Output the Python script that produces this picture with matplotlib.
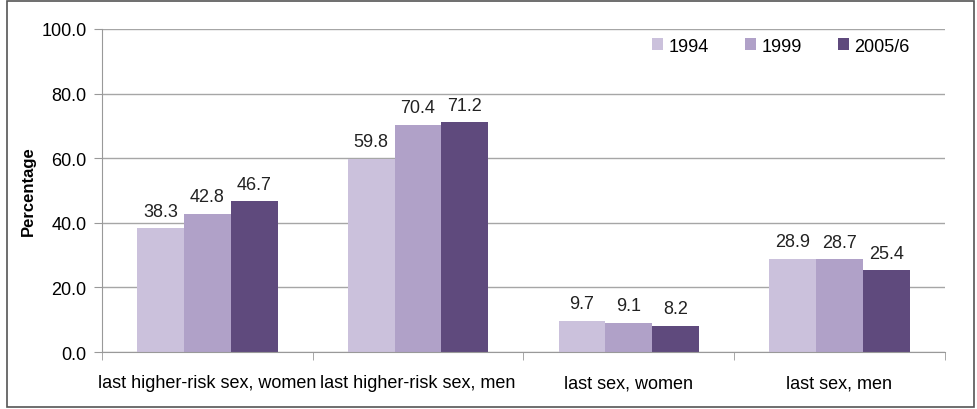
import numpy as np
import matplotlib.pyplot as plt

plt.rcParams['font.family'] = ['Liberation Sans', 'DejaVu Sans']

categories = ['last higher-risk sex, women', 'last higher-risk sex, men',
              'last sex, women', 'last sex, men']
years = ['1994', '1999', '2005/6']
values_1994 = [38.3, 59.8, 9.7, 28.9]
values_1999 = [42.8, 70.4, 9.1, 28.7]
values_2005 = [46.7, 71.2, 8.2, 25.4]
colors = ['#cbc1dc', '#b0a1c8', '#5f4a7d']


def main():
    fig = plt.figure(figsize=(9.77, 4.1), dpi=100)
    ax = fig.add_axes([0.1044, 0.139, 0.8626, 0.788])

    x = np.arange(len(categories))
    w = 0.222
    series = [values_1994, values_1999, values_2005]
    for i, vals in enumerate(series):
        bars = ax.bar(x + (i - 1) * w, vals, w, color=colors[i], label=years[i], zorder=2)
        for b, v in zip(bars, vals):
            ax.text(b.get_x() + b.get_width() / 2, v + 2.6, '%.1f' % v,
                    ha='center', va='bottom', fontsize=13, color='#222222')

    ax.set_xlim(-0.5, len(categories) - 0.5)
    ax.set_ylim(0, 100)
    ax.set_yticks(np.arange(0, 101, 20))
    ax.set_yticklabels(['%.1f' % t for t in np.arange(0, 101, 20)], fontsize=13)
    ax.set_xticks(x)
    ax.set_xticklabels(categories, fontsize=13)
    ax.set_xticks(np.arange(-0.5, len(categories), 1), minor=True)
    ax.tick_params(axis='x', which='major', length=0, pad=16)
    ax.tick_params(axis='x', which='minor', length=6, color='#999999')
    ax.tick_params(axis='y', length=6, color='#999999', pad=5)
    ax.grid(axis='y', color='#a6a6a6', linewidth=1, zorder=0)
    for s in ['top', 'right']:
        ax.spines[s].set_visible(False)
    for s in ['left', 'bottom']:
        ax.spines[s].set_color('#999999')
    ax.set_ylabel('Percentage', fontsize=12, fontweight='bold', labelpad=4)

    ax.legend(loc='center right', bbox_to_anchor=(0.958, 0.947), ncol=3, frameon=False,
              fontsize=13, handlelength=0.6, handleheight=0.6, handletextpad=0.3,
              columnspacing=2.0, borderaxespad=0, borderpad=0)

    fig.patches.append(plt.Rectangle((0.007, 0.005), 0.99, 0.99, transform=fig.transFigure,
                                     fill=False, edgecolor='#555555', linewidth=1.2))
    fig.savefig('out.png', dpi=100)


if __name__ == '__main__':
    main()
